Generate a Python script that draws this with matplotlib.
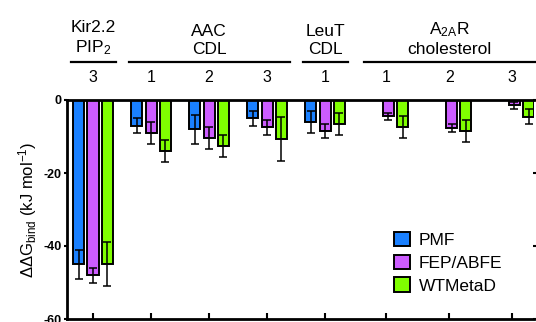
import numpy as np
import matplotlib.pyplot as plt

plt.rcParams['font.family'] = ['Liberation Sans', 'DejaVu Sans']
plt.rcParams['mathtext.default'] = 'regular'
plt.rcParams['axes.unicode_minus'] = False

# one entry per site: Kir2.2 PIP2 (3), AAC CDL (1,2,3), LeuT CDL (1), A2AR cholesterol (1,2,3)
site_labels = ['3', '1', '2', '3', '1', '1', '2', '3']
groups = ['Kir2.2\nPIP$_2$', 'AAC\nCDL', 'LeuT\nCDL', 'A$_{2A}$R\ncholesterol']
group_sites = [[0], [1, 2, 3], [4], [5, 6, 7]]

pmf = [-45, -7, -8, -5, -6, np.nan, np.nan, np.nan]
pmf_err = [4, 2, 4, 2, 3, np.nan, np.nan, np.nan]
fep = [-48, -9, -10.5, -7.5, -8.5, -4.5, -7.7, -1.5]
fep_err = [2, 3, 3, 2, 2, 1, 1, 1]
wtm = [-45, -14, -12.6, -10.6, -6.5, -7.5, -8.6, -4.6]
wtm_err = [6, 3, 3, 6, 3, 3, 3, 2]

series = [('PMF', pmf, pmf_err, '#1a80ff'),
          ('FEP/ABFE', fep, fep_err, '#cc5cff'),
          ('WTMetaD', wtm, wtm_err, '#80ff00')]

# layout
xpos = np.array([0, 1, 2, 3, 4, 5.05, 6.14, 7.22])
shift = np.array([0, 0, 0, 0, 0, 0.04, 0.04, 0.04])
bw = 0.19
off = 0.247

fig = plt.figure(figsize=(5.36, 3.22), dpi=100)
ax = fig.add_axes([67/536, 3/322, 467/536, 219/322])

for i, (name, vals, err, col) in enumerate(series):
    x = xpos + shift + (i - 1) * off
    ax.bar(x, vals, width=bw, color=col, edgecolor='black', linewidth=1.4,
           label=name, zorder=2)
    ax.errorbar(x, vals, yerr=err, fmt='none', ecolor='black', elinewidth=1.1,
                capsize=3.2, capthick=1.1, zorder=3)

ax.set_ylim(-60, 0)
ax.set_xlim(-0.448, 7.6)
ax.set_yticks([0, -20, -40, -60])
ax.set_xticks(xpos)
ax.set_xticklabels([])
ax.tick_params(axis='x', direction='in', length=4.5, width=1.5)
ax.tick_params(axis='y', direction='out', length=2, width=1.5, labelsize=9, pad=2)
for lab in ax.get_yticklabels():
    lab.set_fontweight('bold')
for s in ['left', 'top', 'bottom']:
    ax.spines[s].set_linewidth(2)
ax.spines['right'].set_visible(False)

ax.set_ylabel('$\\Delta\\Delta G_{bind}$ (kJ mol$^{-1}$)', fontsize=12, labelpad=3)

# site numbers, group lines and group names above the plot
for k, t in enumerate(site_labels):
    ax.text(xpos[k], 1.105, t, transform=ax.get_xaxis_transform(),
            ha='center', va='center', fontsize=11.5, clip_on=False)
for g, idx in zip(groups, group_sites):
    x0 = xpos[idx[0]] - 0.38
    x1 = xpos[idx[-1]] + 0.40
    ax.plot([x0, x1], [1.174, 1.174], color='black', lw=1.6,
            transform=ax.get_xaxis_transform(), clip_on=False)
    ax.text((xpos[idx[0]] + xpos[idx[-1]]) / 2, 1.197, g,
            transform=ax.get_xaxis_transform(), ha='center', va='bottom',
            fontsize=12.5, linespacing=1.25, clip_on=False)

leg = ax.legend(loc='upper left', bbox_to_anchor=(0.686, 0.43), frameon=False,
                fontsize=12.5, handlelength=0.9, handleheight=0.9,
                handletextpad=0.5, labelspacing=0.38, borderaxespad=0)

# ticks of the neighbouring panel, cut off at the right edge
ax2 = fig.add_axes([537/536, 3/322, 0.2, 219/322])
ax2.set_ylim(-60, 0)
ax2.set_yticks([0, -20, -40, -60])
ax2.set_yticklabels([])
ax2.set_xticks([])
ax2.tick_params(axis='y', direction='out', length=3, width=1.5)
for s in ax2.spines.values():
    s.set_visible(False)
ax2.patch.set_visible(False)

fig.savefig('out.png', dpi=100)
